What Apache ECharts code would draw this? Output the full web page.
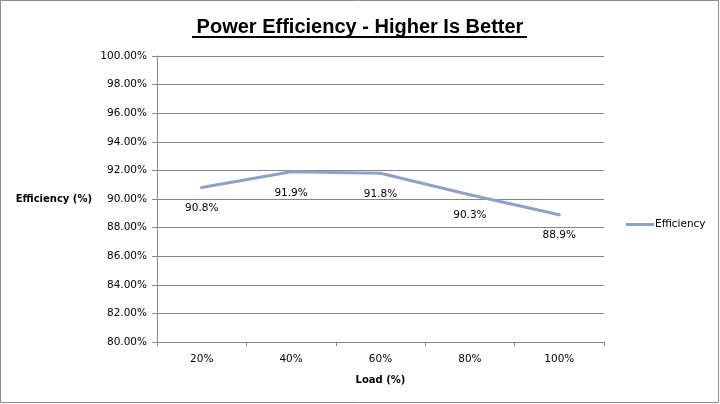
<!DOCTYPE html>
<html>
<head>
<meta charset="utf-8">
<script src="https://cdn.jsdelivr.net/npm/echarts@6/dist/echarts.min.js"></script>
<style>
html,body{margin:0;padding:0;background:#fff;}
#main{width:720px;height:404px;}
</style>
</head>
<body>
<div id="main"></div>
<script>
var categories = ['20%', '40%', '60%', '80%', '100%'];
var efficiency = [90.8, 91.9, 91.8, 90.3, 88.9];
var seriesName = 'Efficiency';
var yTicks = [80, 82, 84, 86, 88, 90, 92, 94, 96, 98, 100];

var chart = echarts.init(document.getElementById('main'), null, {renderer: 'canvas'});
var axisGray = '#868686';
var lineColor = '#8ea2c7';
var labelFont = 'DejaVu Sans';
chart.setOption({
  backgroundColor: '#ffffff',
  animation: false,
  title: {
    text: 'Power Efficiency - Higher Is Better',
    left: 'center',
    top: 12,
    textStyle: {fontFamily: 'Liberation Sans', fontWeight: 'bold', fontSize: 20, color: '#000'}
  },
  graphic: [
    {type: 'rect', shape: {x: 0.5, y: 0.5, width: 718, height: 402}, style: {fill: 'none', stroke: '#8c8c8c', lineWidth: 1}, silent: true},
    {type: 'rect', shape: {x: 192, y: 36, width: 335, height: 2}, style: {fill: '#000'}, silent: true}
  ],
  legend: {
    data: [seriesName],
    left: 621,
    top: 214,
    icon: 'rect',
    itemWidth: 28,
    itemHeight: 3,
    itemGap: 2,
    itemStyle: {color: lineColor, opacity: 1},
    textStyle: {fontFamily: labelFont, fontSize: 10.5, color: '#000', padding: [0,0,0,-4]}
  },
  grid: {left: 157, right: 116, top: 56, bottom: 62, containLabel: false},
  xAxis: {
    type: 'category',
    data: categories,
    boundaryGap: true,
    name: 'Load (%)',
    nameLocation: 'middle',
    nameGap: 33,
    nameTextStyle: {fontFamily: labelFont, fontWeight: 'bold', fontSize: 10, color: '#000'},
    axisLine: {lineStyle: {color: axisGray, width: 1}},
    axisTick: {show: true, alignWithLabel: false, length: 4, lineStyle: {color: axisGray}},
    axisLabel: {fontFamily: labelFont, fontSize: 10.5, color: '#000', margin: 12}
  },
  yAxis: {
    type: 'value',
    min: 80,
    max: 100,
    interval: 2,
    name: 'Efficiency (%)',
    nameLocation: 'middle',
    nameRotate: 0,
    nameGap: 65,
    nameTextStyle: {fontFamily: labelFont, fontWeight: 'bold', fontSize: 10, color: '#000'},
    axisLine: {show: true, lineStyle: {color: axisGray, width: 1}},
    axisTick: {show: true, length: 5, lineStyle: {color: axisGray}},
    splitLine: {show: true, lineStyle: {color: axisGray, width: 1}},
    axisLabel: {
      fontFamily: labelFont, fontSize: 10.5, color: '#000', margin: 10,
      formatter: function (v) { return v.toFixed(2) + '%'; }
    }
  },
  series: [{
    name: seriesName,
    type: 'line',
    data: efficiency,
    symbol: 'circle',
    symbolSize: 3,
    showSymbol: true,
    lineStyle: {color: lineColor, width: 3},
    itemStyle: {color: lineColor, borderWidth: 0},
    label: {
      show: true,
      position: 'bottom',
      distance: 14,
      fontFamily: labelFont,
      fontSize: 10.5,
      color: '#000',
      formatter: function (p) { return p.value.toFixed(1) + '%'; }
    }
  }]
});
</script>
</body>
</html>
